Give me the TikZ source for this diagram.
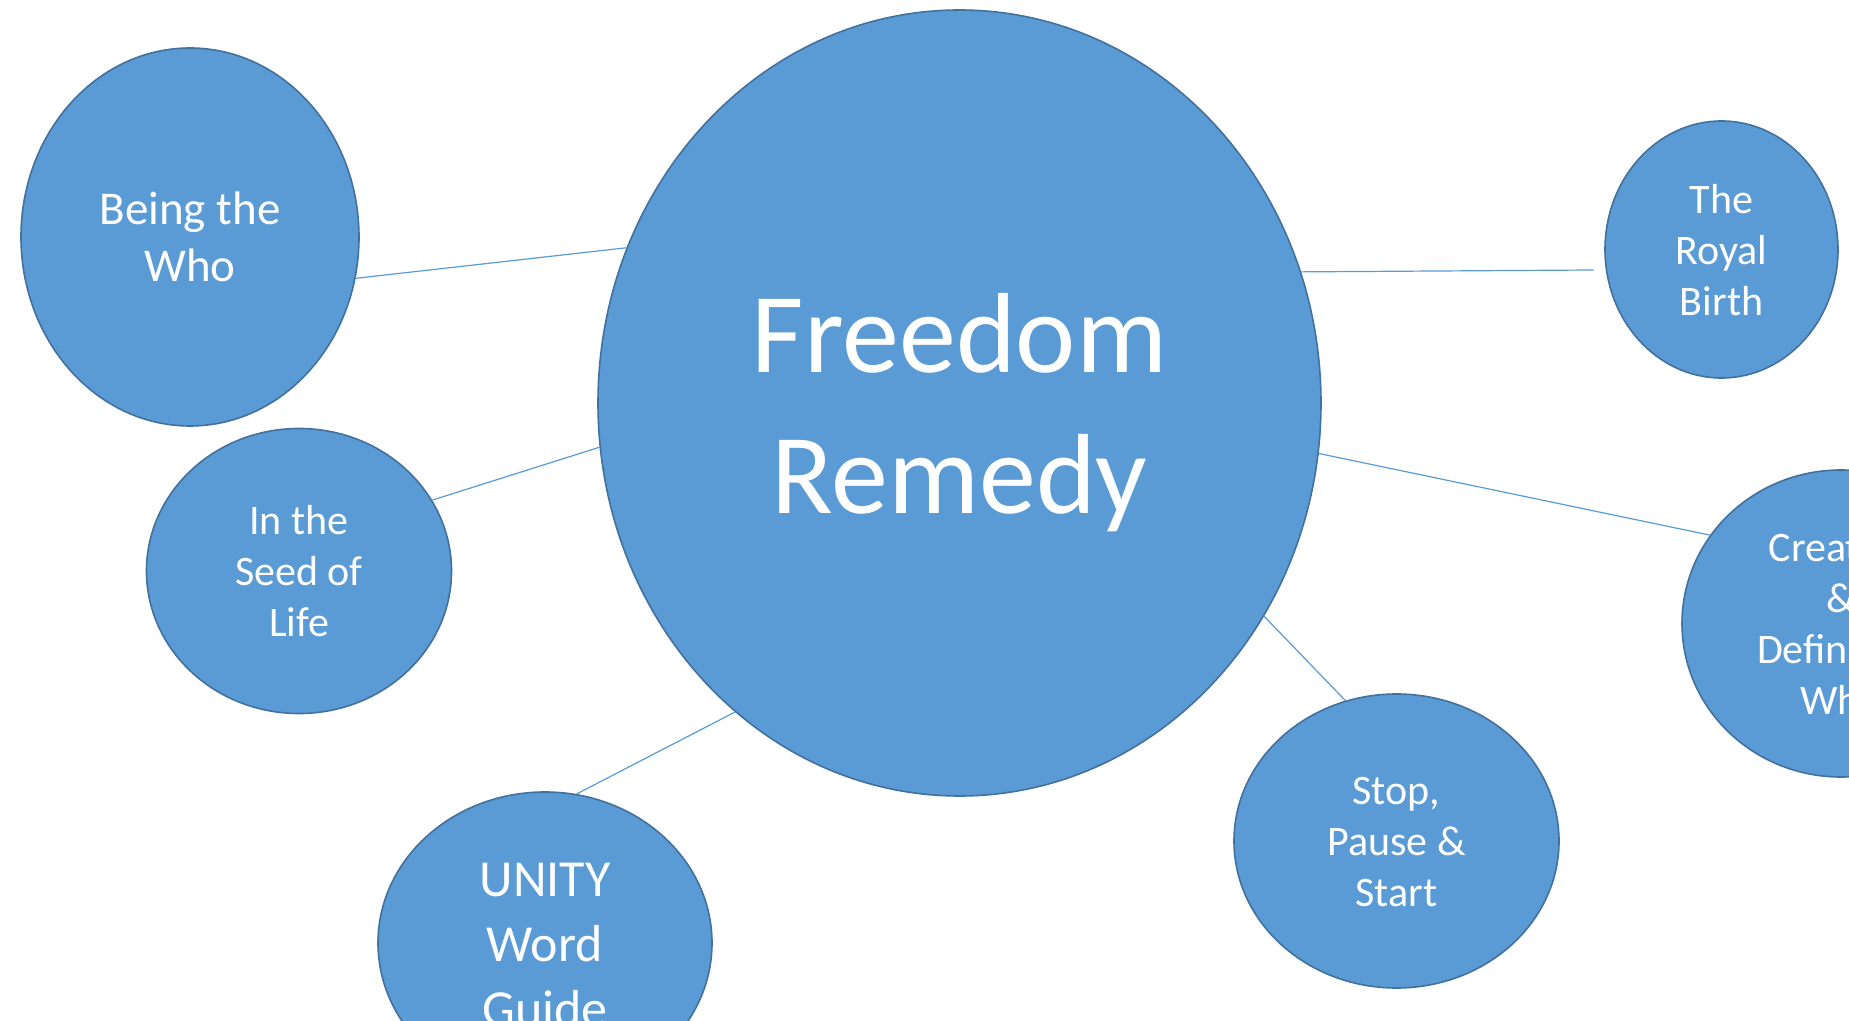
\documentclass[tikz,border=0pt]{standalone}
\usepackage{fontspec}
\setmainfont{Carlito}
\usetikzlibrary{shapes.geometric}
\definecolor{bubblefill}{HTML}{5B9BD5}
\definecolor{bubbleedge}{HTML}{41719C}
\definecolor{linkcol}{HTML}{5B9BD5}
\newcommand\topstrut{\rule{0pt}{0.95em}}
\newcommand\botstrut{\rule[-0.25em]{0pt}{0.25em}}
\begin{document}
\begin{tikzpicture}[x=0.5pt,y=-0.5pt,
  bubble/.style={ellipse, fill=bubblefill, draw=bubbleedge, line width=0.8pt,
    inner sep=0pt, text=white, align=center},
  bigfont/.style={font=\fontsize{57}{70.5}\selectfont},
  beingfont/.style={font=\fontsize{23.5}{28.5}\selectfont},
  unityfont/.style={font=\fontsize{26}{32.5}\selectfont},
  smallfont/.style={font=\fontsize{21}{25.5}\selectfont},
  link/.style={draw=linkcol, line width=0.6pt}]
\useasboundingbox (0,0) rectangle (1849,1021);
\fill[white] (0,0) rectangle (1849,1021);
\clip (0,0) rectangle (1849,1021);

\node[bubble, bigfont, minimum width=361.5pt, minimum height=393pt] (main) at (959.5,403)
  {\topstrut Freedom\\Remedy\botstrut};
\node[bubble, beingfont, minimum width=169pt, minimum height=189pt] (being) at (190,237)
  {\topstrut Being the\\Who\botstrut};
\node[bubble, smallfont, minimum width=152.5pt, minimum height=142.5pt] (seed) at (299,571)
  {\topstrut In the\\Seed of\\Life\botstrut};
\node[bubble, unityfont, minimum width=167pt, minimum height=151pt] (unity) at (545,943)
  {\topstrut UNITY\\Word\\Guide\botstrut};
\node[bubble, smallfont, minimum width=162.5pt, minimum height=147pt] (stop) at (1396.5,841)
  {\topstrut Stop,\\Pause \&\\Start\botstrut};
\node[bubble, smallfont, minimum width=116.5pt, minimum height=128.5pt] (royal) at (1721.5,249.5)
  {\topstrut The\\Royal\\Birth\botstrut};
\node[bubble, smallfont, minimum width=159pt, minimum height=153.5pt] (create) at (1841,623.5)
  {\topstrut Creation\\\&\\Definition\\Who\botstrut};

\draw[link] (being.-14.2) -- (main.155.7);
\draw[link] (seed.28.4) -- (main.-173.8);
\draw[link] (unity.78.8) -- (main.-126);
\draw[link] (main.-35.8) -- (stop.110.5);
\draw[link, shorten >=6pt] (main.21) -- (royal.-170.5);
\draw[link] (main.-8.1) -- (create.146.2);
\end{tikzpicture}
\end{document}
